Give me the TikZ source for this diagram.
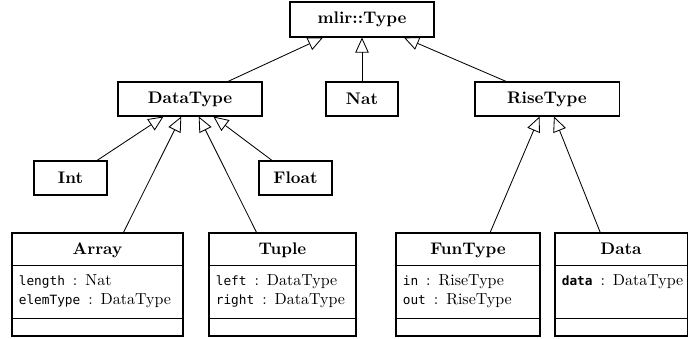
\documentclass[tikz,border=0pt]{standalone}
\usepackage{fontspec}
\setmonofont{DejaVu Sans Mono}[Scale=0.8]
\usetikzlibrary{arrows.meta,calc}
\newcommand{\px}{0.5952pt}
\newcommand{\oftype}{\enspace:\enspace}
\tikzset{
	classbox/.style={draw, line width=0.6pt, inner sep=0pt, minimum height=34*\px},
	attr/.style={anchor=base west, inner sep=0pt, font=\fontsize{9.5}{11.5}\selectfont},
	inherit/.style={-{Triangle[open,length=9pt,width=8pt]}, line width=0.5pt},
}
\newcommand{\makeclass}[6]{
	\node[classbox, minimum width=#3*\px, minimum height=103*\px] (#1) at (#2,284.5) {};
	\draw[line width=0.6pt] ($(#1.north west)+(0,33)$) -- ($(#1.north east)+(0,33)$);
	\draw[line width=0.6pt] ($(#1.south west)+(0,-18)$) -- ($(#1.south east)+(0,-18)$);
	\node[anchor=base, font=\bfseries] at ($(#1.north)+(0,22)$) {#4};
	\node[attr] at ($(#1.north west)+(7,53)$) {#5};
	\node[attr] at ($(#1.north west)+(7,72)$) {#6};
}

\begin{document}
\begin{tikzpicture}[x=\px,y=-\px]
	\useasboundingbox (0,0) rectangle (688,339);

	\node[classbox, minimum width=144*\px, minimum height=35*\px, font=\bfseries] (type) at (362,19.5) {mlir::Type};
	\node[classbox, minimum width=144*\px, font=\bfseries] (datatype) at (190,99) {DataType};
	\node[classbox, minimum width=72*\px, font=\bfseries] (nat) at (362,99) {Nat};
	\node[classbox, minimum width=144*\px, font=\bfseries] (risetype) at (547,99) {RiseType};
	\node[classbox, minimum width=73*\px, font=\bfseries] (int) at (70.5,178) {Int};
	\node[classbox, minimum width=73*\px, font=\bfseries] (float) at (295.5,178) {Float};

	\makeclass{array}{97.5}{171}{Array}{\texttt{length}\oftype Nat}{\texttt{elemType}\oftype DataType}
	\makeclass{tuple}{282.5}{147}{Tuple}{\texttt{left}\oftype DataType}{\texttt{right}\oftype DataType}
	\makeclass{funtype}{468}{144}{FunType}{\texttt{in}\oftype RiseType}{\texttt{out}\oftype RiseType}
	\makeclass{data}{621}{132}{Data}{\texttt{\bfseries data}\oftype DataType}{}

	\draw[inherit] (datatype) -- (type);
	\draw[inherit] (nat) -- (type);
	\draw[inherit] (risetype) -- (type);
	\draw[inherit] (int) -- (datatype);
	\draw[inherit] (array) -- (datatype);
	\draw[inherit] (tuple) -- (datatype);
	\draw[inherit] (float) -- (datatype);
	\draw[inherit] (funtype) -- (risetype);
	\draw[inherit] (data) -- (risetype);

\end{tikzpicture}
\end{document}
